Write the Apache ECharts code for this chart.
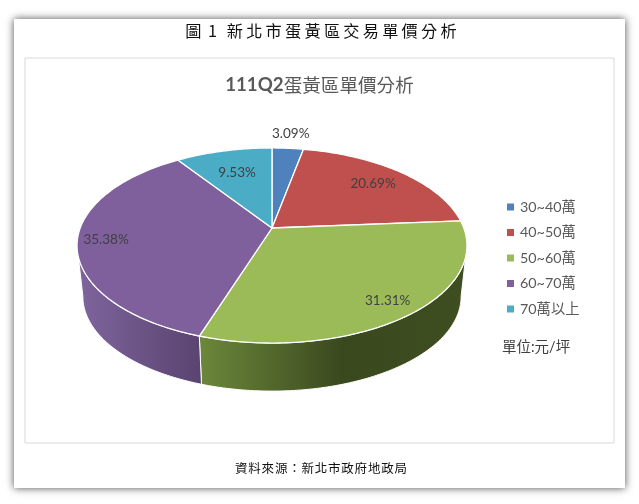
<!DOCTYPE html>
<html>
<head>
<meta charset="utf-8">
<style>html,body{margin:0;padding:0;background:#fff}#c{width:639px;height:504px}</style>
<script src="https://cdn.jsdelivr.net/npm/echarts@6/dist/echarts.min.js"></script>
</head>
<body>
<div id="c"></div>
<script>
const categories = ['30~40萬', '40~50萬', '50~60萬', '60~70萬', '70萬以上'];
const shares = [3.09, 20.69, 31.31, 35.38, 9.53];
const colors = ['#4f81bd', '#c0504d', '#9bbb59', '#7f609d', '#4bacc6'];
const labelRadii = [1.23, 0.77, 0.86, 0.855, 0.69];

const CJK = '"Noto Sans CJK TC"';
const UI = 'Lato,' + CJK;
const thin = '\u2009';
const hair = '\u200a';

// Tilted-disc projection used by the series below
const PIE = { cx: 272, cy: 228, a: 191.8, b: 94.4, k: 0.1795, depth: 51.5, scale: 0.97 };
const total = shares.reduce((s, v) => s + v, 0);
const cum = [];
shares.reduce((s, v, i) => (cum[i] = s, s + v), 0);
const rad = d => d * Math.PI / 180;
function proj(deg, rho, low) {
  const s = Math.sin(rad(deg)), c = Math.cos(rad(deg));
  const den = 1 + PIE.k * rho * c;
  const f = low ? PIE.scale : 1;
  return [PIE.cx + f * PIE.a * rho * s / den,
          PIE.cy + (low ? PIE.depth : 0) - f * PIE.b * rho * c / den];
}
function arc(from, to, low) {
  const pts = [], n = Math.max(2, Math.ceil(Math.abs(to - from)));
  for (let i = 0; i <= n; i++) pts.push(proj(from + (to - from) * i / n, 1, low));
  return pts;
}
const wallFrom = 100.3, wallTo = 259.7;
const wallFill = [
  null, null,
  new echarts.graphic.LinearGradient(200, 0, 461, 0, [
    { offset: 0, color: '#6c873b' }, { offset: 0.55, color: '#3a481e' }, { offset: 1, color: '#3f4e20' }
  ], true),
  new echarts.graphic.LinearGradient(83, 0, 200, 0, [
    { offset: 0, color: '#7d639b' }, { offset: 1, color: '#5a4470' }
  ], true),
  null
];

function renderSlice(idx) {
  return function (params, api) {
    const value = api.value(0);
    const start = cum[idx] / total * 360, end = (cum[idx] + value) / total * 360;
    const kids = [];
    const w0 = Math.max(start, wallFrom), w1 = Math.min(end, wallTo);
    if (w1 > w0) {
      kids.push({
        type: 'polygon', z2: 1,
        shape: { points: arc(w0, w1, false).concat(arc(w1, w0, true)) },
        style: { fill: wallFill[idx], stroke: '#fff', lineWidth: 1 }
      });
    }
    kids.push({
      type: 'polygon', z2: 2,
      shape: { points: [[PIE.cx, PIE.cy]].concat(arc(start, end, false)) },
      style: { fill: colors[idx], stroke: '#fff', lineWidth: 1.3, lineJoin: 'round' }
    });
    const p = proj((start + end) / 2, labelRadii[idx], false);
    kids.push({
      type: 'text', z2: 5,
      style: { text: value.toFixed(2) + '%', x: p[0], y: p[1], align: 'center', verticalAlign: 'middle',
               fill: '#404040', font: '13.5px ' + UI }
    });
    return { type: 'group', children: kids };
  };
}

const chart = echarts.init(document.getElementById('c'), null, { renderer: 'canvas' });
chart.setOption({
  animation: false,
  backgroundColor: '#fff',
  title: [
    { text: '圖' + thin.repeat(2) + '1' + thin.repeat(3) + [...'新北市蛋黃區交易單價分析'].join(thin), left: 321, top: 31, padding: 0, textAlign: 'center', textVerticalAlign: 'middle',
      textStyle: { fontFamily: CJK, fontSize: 16.2, fontWeight: 'normal', color: '#111' } },
    { text: '{a|111Q2}{b|蛋黃區單價分析}', left: 319.5, top: 85, padding: 0, textAlign: 'center', textVerticalAlign: 'middle',
      textStyle: { rich: {
        a: { fontFamily: UI, fontSize: 18.7, fontWeight: 'bold', color: '#595959' },
        b: { fontFamily: CJK, fontSize: 18.6, fontWeight: 'normal', color: '#595959' } } } },
    { text: '單位:元/坪', left: 502, top: 347, padding: 0, textVerticalAlign: 'middle',
      textStyle: { fontFamily: UI, fontSize: 14.5, fontWeight: 'normal', color: '#404040' } },
    { text: [...'資料來源：新北市政府地政局'].join(hair), left: 321, top: 468, padding: 0, textAlign: 'center', textVerticalAlign: 'middle',
      textStyle: { fontFamily: CJK, fontSize: 12.5, fontWeight: 'normal', color: '#111' } }
  ],
  legend: {
    orient: 'vertical', left: 502, top: 193, icon: 'rect', itemWidth: 7, itemHeight: 7, itemGap: 7.5,
    selectedMode: false, data: categories,
    textStyle: { fontFamily: UI, fontSize: 14.3, color: '#595959', lineHeight: 18, padding: [0, 0, 0, 1] }
  },
  graphic: [
    { type: 'rect', z: -10, shape: { x: 14, y: 19, width: 611, height: 469 },
      style: { fill: '#fff', shadowBlur: 8, shadowColor: 'rgba(0,0,0,0.7)', shadowOffsetX: 0, shadowOffsetY: 0 } },
    { type: 'rect', z: -9, shape: { x: 25, y: 58, width: 589, height: 385 },
      style: { fill: '#fff', stroke: '#d9d9d9', lineWidth: 1 } }
  ],
  series: categories.map((name, i) => ({
    type: 'custom', name, coordinateSystem: 'none', silent: true,
    itemStyle: { color: colors[i] },
    data: [[shares[i]]],
    encode: { value: 0 },
    renderItem: renderSlice(i)
  }))
});
</script>
</body>
</html>
